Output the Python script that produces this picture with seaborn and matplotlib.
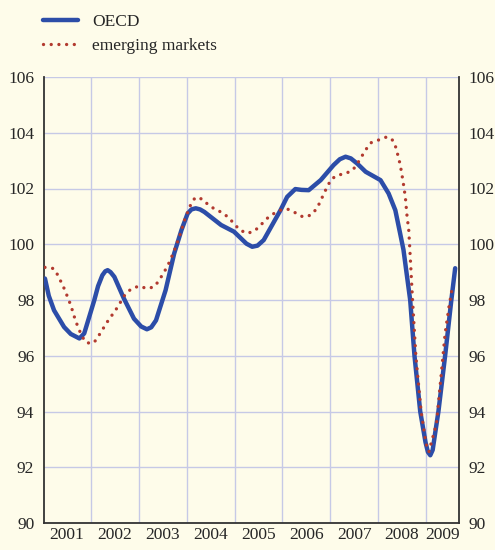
import pandas as pd
import matplotlib
matplotlib.use('Agg')
import matplotlib.pyplot as plt
import seaborn as sns

# readings (decimal year, index value)
oecd_t = [2001.04, 2001.12, 2001.23, 2001.44, 2001.58, 2001.76, 2001.86, 2002.07, 2002.15, 2002.24,
          2002.30, 2002.35, 2002.41, 2002.49, 2002.69, 2002.90, 2003.05, 2003.17, 2003.26, 2003.36,
          2003.56, 2003.74, 2003.89, 2004.02, 2004.10, 2004.19, 2004.28, 2004.37, 2004.72, 2004.99,
          2005.25, 2005.37, 2005.48, 2005.61, 2005.96, 2006.10, 2006.27, 2006.40, 2006.55, 2006.80,
          2007.07, 2007.20, 2007.32, 2007.43, 2007.56, 2007.74, 2008.05, 2008.22, 2008.36, 2008.46,
          2008.53, 2008.67, 2008.76, 2008.88, 2008.99, 2009.04, 2009.09, 2009.14, 2009.19, 2009.26,
          2009.40, 2009.53, 2009.61]
oecd_v = [98.77, 98.15, 97.63, 97.03, 96.78, 96.62, 96.80, 97.99, 98.50, 98.89,
          99.03, 99.07, 99.00, 98.83, 98.05, 97.33, 97.05, 96.95, 97.02, 97.27,
          98.35, 99.67, 100.50, 101.10, 101.25, 101.29, 101.25, 101.16, 100.69, 100.45,
          100.02, 99.91, 99.95, 100.15, 101.22, 101.70, 101.98, 101.95, 101.94, 102.30,
          102.84, 103.05, 103.14, 103.08, 102.90, 102.60, 102.30, 101.82, 101.22, 100.39,
          99.80, 98.00, 96.00, 94.00, 92.90, 92.55, 92.43, 92.62, 93.20, 94.00,
          96.00, 98.00, 99.14]

em_t = [2001.04, 2001.22, 2001.31, 2001.45, 2001.58, 2001.68, 2001.81, 2001.91, 2002.06, 2002.16,
        2002.34, 2002.54, 2002.72, 2002.85, 2003.01, 2003.17, 2003.32, 2003.42, 2003.60, 2003.74,
        2003.86, 2003.96, 2004.09, 2004.18, 2004.33, 2004.46, 2004.60, 2004.75, 2004.88, 2005.00,
        2005.11, 2005.27, 2005.42, 2005.55, 2005.66, 2005.80, 2005.95, 2006.11, 2006.27, 2006.43,
        2006.59, 2006.71, 2006.79, 2006.86, 2006.93, 2007.02, 2007.15, 2007.31, 2007.47, 2007.57,
        2007.66, 2007.75, 2007.85, 2008.01, 2008.18, 2008.25, 2008.32, 2008.38, 2008.42, 2008.46,
        2008.52, 2008.57, 2008.60, 2008.64, 2008.66, 2008.72, 2008.79, 2008.90, 2009.00, 2009.06,
        2009.22, 2009.30, 2009.40, 2009.48, 2009.54]
em_v = [99.17, 99.13, 98.89, 98.38, 97.81, 97.25, 96.70, 96.46, 96.46, 96.71,
        97.21, 97.70, 98.21, 98.41, 98.50, 98.41, 98.47, 98.69, 99.21, 99.76,
        100.33, 100.89, 101.44, 101.68, 101.62, 101.40, 101.25, 101.13, 100.95, 100.72,
        100.51, 100.39, 100.48, 100.69, 100.90, 101.08, 101.22, 101.26, 101.13, 100.98,
        101.04, 101.26, 101.52, 101.79, 102.04, 102.33, 102.48, 102.53, 102.66, 102.90,
        103.16, 103.41, 103.64, 103.74, 103.85, 103.82, 103.70, 103.43, 103.14, 102.87,
        102.27, 101.68, 101.08, 100.51, 99.91, 97.99, 95.96, 93.98, 92.85, 92.55,
        93.57, 95.00, 96.80, 97.75, 98.35]

years = [2001, 2002, 2003, 2004, 2005, 2006, 2007, 2008, 2009]
y_ticks = [90, 92, 94, 96, 98, 100, 102, 104, 106]

bg = '#FEFCEA'
grid_col = '#C6C9E6'
blue = '#2C4DA8'
red = '#B23A2F'

sns.set_style('white')
plt.rcParams['font.family'] = ['Liberation Serif', 'DejaVu Serif']

fig = plt.figure(figsize=(4.95, 5.5), dpi=100, facecolor=bg)
ax = fig.add_axes([44/495, 1-523/550, (459-44)/495, (523-77)/550])
ax.set_facecolor(bg)

oecd = pd.DataFrame({'t': oecd_t, 'v': oecd_v})
em = pd.DataFrame({'t': em_t, 'v': em_v})

sns.lineplot(data=oecd, x='t', y='v', ax=ax, color=blue, linewidth=3.2, sort=False,
             estimator=None, label='OECD', solid_capstyle='round', solid_joinstyle='round',
             zorder=3)
sns.lineplot(data=em, x='t', y='v', ax=ax, color=red, linewidth=2.4, sort=False,
             estimator=None, label='emerging markets', zorder=4,
             linestyle=(0, (0.01, 2.3)), dash_capstyle='round')

ax.set_xlim(2001.02, 2009.69)
ax.set_ylim(90, 106)

# grid
ax.set_yticks(y_ticks)
ax.set_xticks(years[1:])
ax.grid(True, color=grid_col, linewidth=1.0)
ax.set_axisbelow(True)

# year labels in the middle of each year
mids = [y + 0.5 for y in years[:-1]] + [(2009 + 2009.69) / 2]
ax.set_xticks(mids, minor=True)
ax.set_xticklabels([str(y) for y in years], minor=True, fontsize=12.5)
ax.set_xticklabels([])
ax.tick_params(axis='x', which='major', direction='out', length=4, width=1.2, color='#333333')
ax.tick_params(axis='x', which='minor', length=0, pad=3)

ax.tick_params(axis='y', which='both', length=0, pad=7, labelsize=12.5,
               left=True, right=True, labelleft=True, labelright=True)

for side in ['left', 'right', 'bottom']:
    ax.spines[side].set_color('#333333')
    ax.spines[side].set_linewidth(1.3)
ax.spines['top'].set_visible(False)

ax.set_xlabel('')
ax.set_ylabel('')

ax.legend(loc='upper left', bbox_to_anchor=(43/495, 1-14/550), bbox_transform=fig.transFigure,
          frameon=False, fontsize=12.5, handlelength=2.0, handletextpad=0.85,
          labelspacing=0.45, borderpad=0, borderaxespad=0)

fig.savefig('out.png', dpi=100, facecolor=bg)
